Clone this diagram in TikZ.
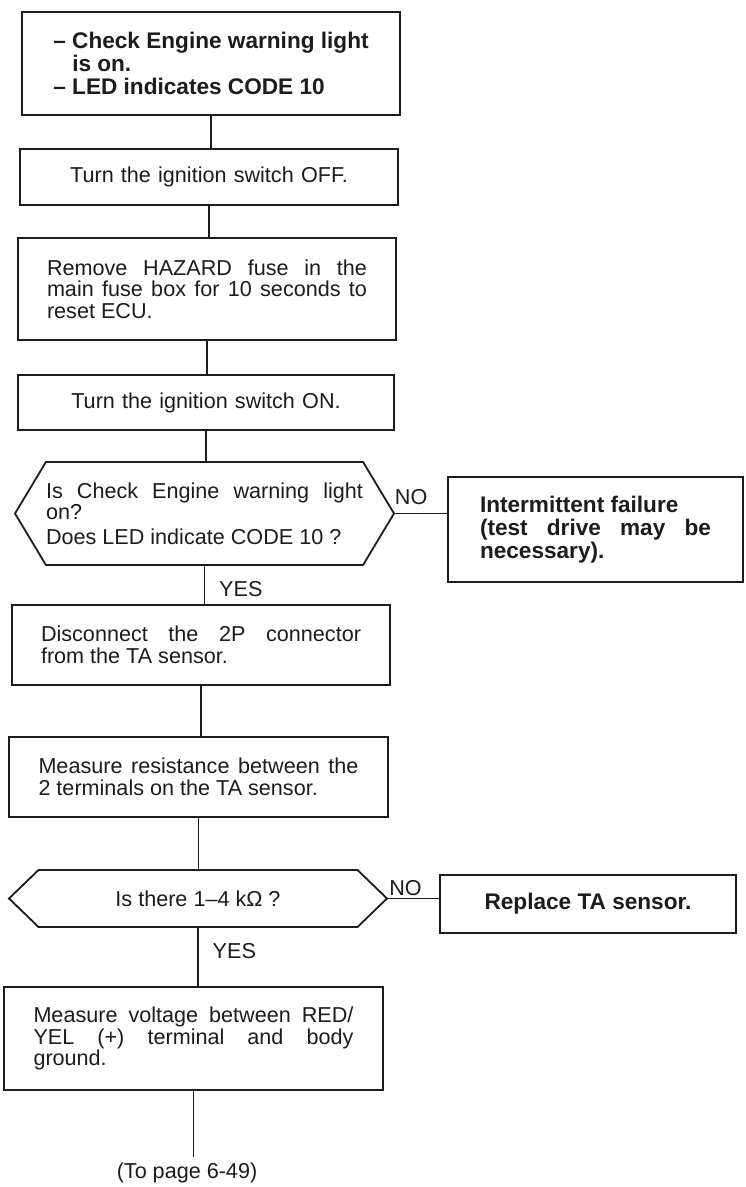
\documentclass[tikz,border=0pt]{standalone}
\usepackage{fontspec}
\setmainfont{Liberation Sans}
\usetikzlibrary{shapes.symbols}
\definecolor{inkBlack}{RGB}{28,28,28}
\newcommand{\plainFont}{\fontsize{10.8}{10.8}\selectfont}
\newcommand{\boldFont}{\fontsize{11.3}{11.5}\selectfont\bfseries}
\tikzset{
  stepBox/.style={draw=inkBlack,line width=0.9pt,inner sep=0pt,text width=160pt,align=justify,text=inkBlack,font=\plainFont},
  centerBox/.style={stepBox,align=center},
  boldBox/.style={stepBox,font=\boldFont},
  askHex/.style={stepBox,shape=signal,signal to=west and east},
  flowLine/.style={draw=inkBlack,line width=0.7pt},
  answerText/.style={font=\plainFont,text=inkBlack,inner sep=1pt}
}

\begin{document}
\begin{tikzpicture}[x=0.5pt,y=-0.5pt]
\useasboundingbox[fill=white] (0,0) rectangle (745,1187);
% main column
\node[boldBox,align=left,text width=,minimum width=189pt,minimum height=51.5pt] (checkLight) at (211,63.5) {\textendash\ Check Engine warning light\\\hphantom{\textendash\ }is on.\\\textendash\ LED indicates CODE 10};
\node[centerBox,minimum width=189pt,minimum height=28pt] (ignOff) at (209,177) {Turn the ignition switch OFF.};
\node[stepBox,minimum width=189pt,minimum height=51pt] (resetFuse) at (207,289) {Remove HAZARD fuse in the\linebreak main fuse box for 10 seconds to\linebreak reset ECU.};
\node[centerBox,minimum width=188pt,minimum height=27.5pt] (ignOn) at (206,402.5) {Turn the ignition switch ON.};
\node[askHex,text width=158.5pt,signal pointer angle=118,minimum width=189.5pt,minimum height=51.5pt] (askCode) at (204.5,513.5) {Is Check Engine warning light\linebreak on?\par\vspace{1.5pt}Does LED indicate CODE 10 ?};
\node[stepBox,minimum width=189pt,minimum height=40pt] (unplug) at (201,645) {Disconnect the 2P connector\linebreak from the TA sensor.};
\node[stepBox,minimum width=189.5pt,minimum height=40pt] (measureOhm) at (198.5,777) {Measure resistance between the\linebreak 2 terminals on the TA sensor.};
\node[askHex,align=center,text width=,signal pointer angle=88,minimum width=189pt,minimum height=28.5pt] (askOhm) at (198,898.5) {Is there 1\textendash4 kΩ ?};
\node[stepBox,minimum width=189.5pt,minimum height=51.5pt] (measureVolt) at (193.5,1038.5) {Measure voltage between RED/\linebreak YEL (+) terminal and body\linebreak ground.};
\node[answerText] (toPage) at (187,1173) {(To page 6-49)};
% right column
\node[boldBox,text width=115.5pt,minimum width=147.5pt,minimum height=52.5pt] (intermit) at (595.5,529.5) {Intermittent failure\\(test drive may be\linebreak necessary).};
\node[boldBox,align=center,text width=,minimum width=148pt,minimum height=29pt] (replaceSensor) at (588,904) {Replace TA sensor.};
% connectors
\draw[flowLine] (checkLight.south) -- (checkLight.south |- ignOff.north);
\draw[flowLine] (ignOff.south) -- (ignOff.south |- resetFuse.north);
\draw[flowLine] (resetFuse.south) -- (resetFuse.south |- ignOn.north);
\draw[flowLine] (ignOn.south) -- (ignOn.south |- askCode.north);
\draw[flowLine] (askCode.south) -- node[answerText,pos=0.6,right=6pt] {YES} (askCode.south |- unplug.north);
\draw[flowLine] (askCode.east) -- node[answerText,pos=0.31,above=3pt] {NO} (askCode.east -| intermit.west);
\draw[flowLine] (unplug.south) -- (unplug.south |- measureOhm.north);
\draw[flowLine] (measureOhm.south) -- (measureOhm.south |- askOhm.north);
\draw[flowLine] (askOhm.south) -- node[answerText,pos=0.4,right=6pt] {YES} (askOhm.south |- measureVolt.north);
\draw[flowLine] (askOhm.east) -- node[answerText,pos=0.34,above=0pt] {NO} (askOhm.east -| replaceSensor.west);
\draw[flowLine,shorten >=2pt] (measureVolt.south) -- (measureVolt.south |- toPage.north);
\end{tikzpicture}
\end{document}
